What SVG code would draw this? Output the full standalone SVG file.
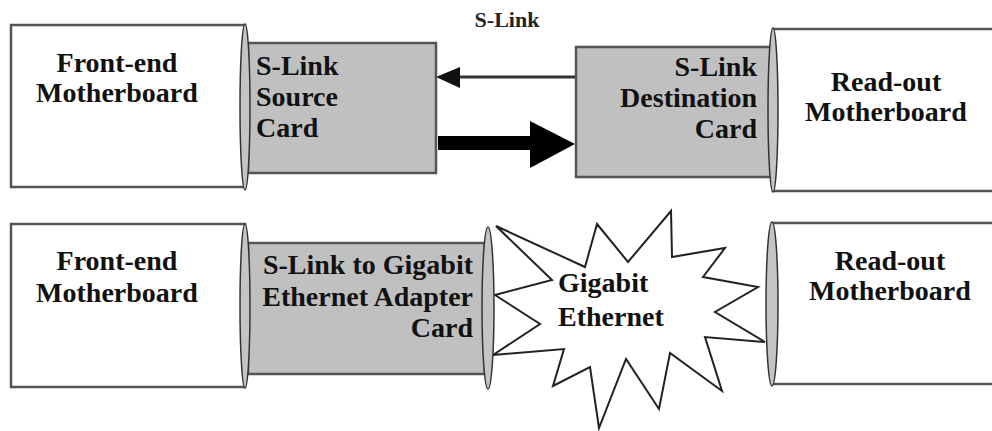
<svg xmlns="http://www.w3.org/2000/svg" width="992" height="431" viewBox="0 0 992 431">
<style>
.mb{fill:#fff;stroke:#555;stroke-width:2.5}
.card{fill:#c0c0c0;stroke:#555;stroke-width:2.5}
.conn{fill:#c4c4c4;stroke:#333;stroke-width:1.5}
.t{font-family:'Liberation Serif','DejaVu Serif',serif;font-weight:bold;font-size:28px;fill:#111}
.c{text-anchor:middle}
.r{text-anchor:end}
.star{fill:#fff;stroke:#222;stroke-width:2;stroke-linejoin:miter}
</style>
<rect width="992" height="431" fill="#fff"/>
<g id="fe-mb-top">
<rect class="mb" x="11" y="25" width="234" height="162"/>
<text class="t c" x="117" y="72">Front-end</text>
<text class="t c" x="117" y="102">Motherboard</text>
</g>
<g id="source-card">
<rect class="card" x="248" y="43" width="188" height="130"/>
<text class="t" x="256" y="75">S-Link</text>
<text class="t" x="256" y="106">Source</text>
<text class="t" x="256" y="137">Card</text>
</g>
<ellipse class="conn" cx="245" cy="107" rx="5" ry="83"/>
<g id="ro-mb-top">
<rect class="mb" x="773" y="29" width="230" height="162"/>
<text class="t c" x="886" y="91">Read-out</text>
<text class="t c" x="886" y="121">Motherboard</text>
</g>
<g id="dest-card">
<rect class="card" x="576" y="47" width="196" height="130"/>
<text class="t r" x="757" y="76">S-Link</text>
<text class="t r" x="757" y="107">Destination</text>
<text class="t r" x="757" y="138">Card</text>
</g>
<ellipse class="conn" cx="773" cy="110" rx="5" ry="82"/>
<g id="connectors">
<line x1="575" y1="77" x2="455" y2="77" stroke="#333" stroke-width="3"/>
<polygon points="436,77 460,67 460,88" fill="#111"/>
<rect x="438" y="136" width="94" height="14" fill="#000"/>
<polygon points="530,121 575,144 530,168" fill="#000"/>
<text class="t c" x="507" y="27" style="font-size:22px;fill:#222">S-Link</text>
</g>
<g id="fe-mb-bottom">
<rect class="mb" x="11" y="224" width="234" height="163"/>
<text class="t c" x="117" y="270">Front-end</text>
<text class="t c" x="117" y="302">Motherboard</text>
</g>
<g id="adapter-card">
<rect class="card" x="248" y="243" width="237" height="131"/>
<text class="t r" x="473" y="274">S-Link to Gigabit</text>
<text class="t r" x="473" y="306">Ethernet Adapter</text>
<text class="t r" x="473" y="337">Card</text>
</g>
<ellipse class="conn" cx="245" cy="306" rx="5" ry="82"/>
<g id="gigabit-ethernet">
<polygon class="star" points="496,226 585,267 597,224 628,262 671,211 672,257 725,248 703,277 758,287 715,312 765,342 705,337 722,391 670,353 659,409 626,359 599,428 590,367 553,386 564,349 493,355 540,324 495,295 552,280"/>
<text class="t" x="558" y="292">Gigabit</text>
<text class="t" x="558" y="326">Ethernet</text>
</g>
<ellipse class="conn" cx="488" cy="308" rx="6" ry="81"/>
<g id="ro-mb-bottom">
<rect class="mb" x="772" y="223" width="230" height="161"/>
<text class="t c" x="890" y="270">Read-out</text>
<text class="t c" x="890" y="300">Motherboard</text>
</g>
<ellipse class="conn" cx="772" cy="304" rx="6" ry="82"/>
</svg>
